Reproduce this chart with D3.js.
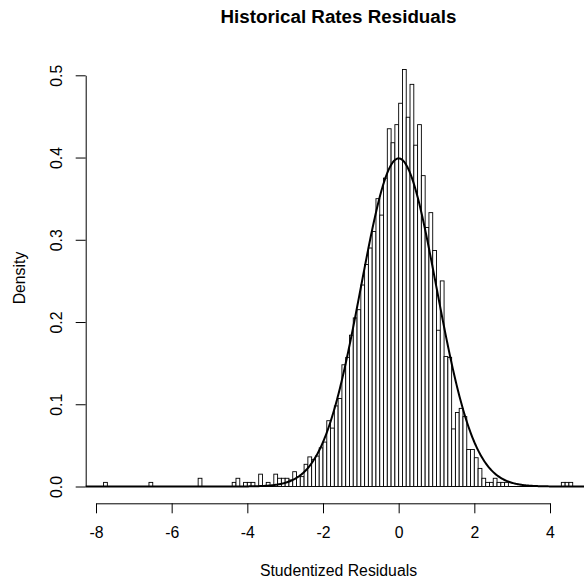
<!DOCTYPE html>
<html>
<head>
<meta charset="utf-8">
<script src="https://cdn.jsdelivr.net/npm/d3@7"></script>
<style>
  body { margin: 0; background: #fff; }
  text { font-family: "Liberation Sans", Arial, Helvetica, sans-serif; fill: #000; }
</style>
</head>
<body>
<svg id="chart" width="584" height="578"></svg>
<script>
// Histogram of studentized residuals (bin width 0.1), density scale
const binWidth = 0.1;
const binLefts = [
  -7.8, -6.6, -5.3, -4.4, -4.3, -4.1, -4.0, -3.9, -3.7, -3.5,
  -3.3, -3.2, -3.1, -3.0, -2.9, -2.8, -2.7, -2.6, -2.5, -2.4,
  -2.3, -2.2, -2.1, -2.0, -1.9, -1.8, -1.7, -1.6, -1.5, -1.4,
  -1.3, -1.2, -1.1, -1.0, -0.9, -0.8, -0.7, -0.6, -0.5, -0.4,
  -0.3, -0.2, -0.1, 0.0, 0.1, 0.2, 0.3, 0.4, 0.5, 0.6,
  0.7, 0.8, 0.9, 1.0, 1.1, 1.2, 1.3, 1.4, 1.5, 1.6,
  1.7, 1.8, 1.9, 2.0, 2.1, 2.2, 2.3, 2.4, 2.5, 2.6,
  2.7, 2.8, 4.3, 4.4, 4.5
];
const densities = [
  0.005, 0.005, 0.010, 0.005, 0.010, 0.005, 0.005, 0.005, 0.015, 0.005,
  0.015, 0.010, 0.010, 0.010, 0.008, 0.018, 0.012, 0.012, 0.027, 0.036,
  0.033, 0.037, 0.047, 0.054, 0.080, 0.071, 0.098, 0.107, 0.148, 0.157,
  0.184, 0.205, 0.215, 0.245, 0.270, 0.290, 0.310, 0.350, 0.330, 0.375,
  0.435, 0.418, 0.440, 0.466, 0.507, 0.449, 0.489, 0.415, 0.440, 0.378,
  0.315, 0.333, 0.287, 0.190, 0.250, 0.158, 0.157, 0.070, 0.090, 0.095,
  0.085, 0.045, 0.045, 0.035, 0.022, 0.010, 0.005, 0.005, 0.010, 0.005,
  0.005, 0.005, 0.005, 0.005, 0.005
];

// Reference normal curve parameters
const curveMean = 0;
const curveSd = 1;

const xTicks = [-8, -6, -4, -2, 0, 2, 4];
const yTicks = [0, 0.1, 0.2, 0.3, 0.4, 0.5];
const titleText = "Historical Rates Residuals";
const xTitleText = "Studentized Residuals";
const yTitleText = "Density";

const svg = d3.select("#chart");

const x = d3.scaleLinear().domain([-8, 4]).range([96, 550]);
const y = d3.scaleLinear().domain([0, 0.5]).range([486.5, 75.3]);
const plotLeft = 85.7;
const plotBottom = 503.3;

const bins = binLefts.map((b, i) => ({ x0: b, x1: b + binWidth, d: densities[i] }));

// Baseline across the binned range (empty bins draw as flat rectangles)
svg.append("line")
  .attr("x1", x(binLefts[0])).attr("x2", x(binLefts[binLefts.length - 1] + binWidth))
  .attr("y1", y(0)).attr("y2", y(0))
  .attr("stroke", "#000").attr("stroke-width", 1);

// Bars
svg.append("g")
  .selectAll("rect")
  .data(bins)
  .join("rect")
  .attr("x", d => x(d.x0))
  .attr("y", d => y(d.d))
  .attr("width", d => x(d.x1) - x(d.x0))
  .attr("height", d => y(0) - y(d.d))
  .attr("fill", "#fff")
  .attr("stroke", "#000")
  .attr("stroke-width", 0.9);

// Normal density curve across the full plotting range
const curveXs = d3.range(x.invert(plotLeft), 5.3, 0.02);
const pdf = v => Math.exp(-0.5 * ((v - curveMean) / curveSd) ** 2) / (curveSd * Math.sqrt(2 * Math.PI));
svg.append("path")
  .datum(curveXs)
  .attr("fill", "none")
  .attr("stroke", "#000")
  .attr("stroke-width", 2)
  .attr("d", d3.line().x(v => x(v)).y(v => y(pdf(v))));

// X axis
const xAxis = svg.append("g")
  .attr("transform", `translate(0,${plotBottom})`)
  .call(d3.axisBottom(x).tickValues(xTicks).tickSize(10).tickSizeOuter(0).tickPadding(13)
    .tickFormat(d => String(d)));
xAxis.selectAll("path, line").attr("stroke", "#000").attr("stroke-width", 1);
xAxis.selectAll("text").attr("font-size", 15.8).attr("dy", "0.71em")
  .style("font-family", '"Liberation Sans", Arial, Helvetica, sans-serif').attr("fill", "#000");

// Y axis
const yAxis = svg.append("g")
  .attr("transform", `translate(${plotLeft},0)`)
  .call(d3.axisLeft(y).tickValues(yTicks).tickSize(10).tickSizeOuter(0)
    .tickFormat(d3.format(".1f")));
yAxis.selectAll("path, line").attr("stroke", "#000").attr("stroke-width", 1);
yAxis.selectAll("text")
  .attr("font-size", 15.8)
  .attr("x", 0).attr("y", -23.5).attr("dy", 0)
  .attr("text-anchor", "middle")
  .attr("transform", "rotate(-90)")
  .style("font-family", '"Liberation Sans", Arial, Helvetica, sans-serif').attr("fill", "#000");

// Titles
svg.append("text")
  .attr("x", 338.5).attr("y", 23)
  .attr("text-anchor", "middle")
  .attr("font-size", 18.8).attr("font-weight", "bold")
  .text(titleText);

svg.append("text")
  .attr("x", 338.5).attr("y", 575.5)
  .attr("text-anchor", "middle")
  .attr("font-size", 15.8)
  .text(xTitleText);

svg.append("text")
  .attr("transform", `translate(24.8,${y(0.2535)}) rotate(-90)`)
  .attr("text-anchor", "middle")
  .attr("font-size", 15.8)
  .text(yTitleText);
</script>
</body>
</html>
